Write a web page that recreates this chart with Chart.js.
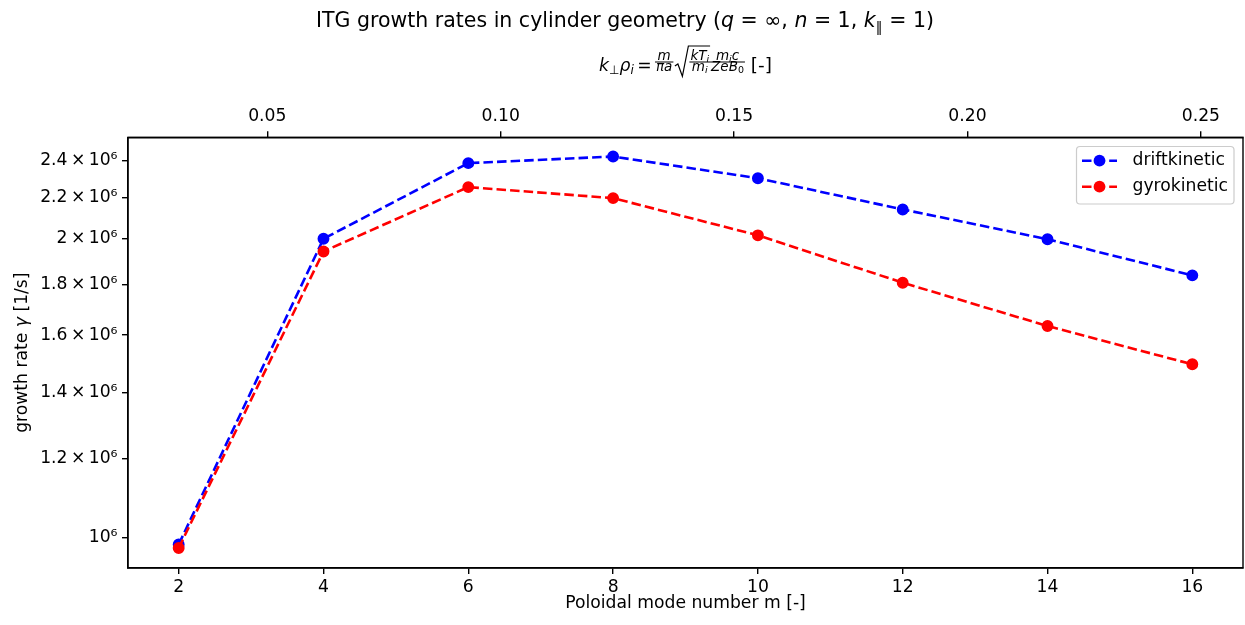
<!DOCTYPE html>
<html>
<head>
<meta charset="utf-8">
<script src="https://cdn.jsdelivr.net/npm/chart.js@4.4.1/dist/chart.umd.min.js"></script>
<style>
  html, body { margin: 0; padding: 0; background: #fff; }
  #wrap { width: 1245px; height: 625px; }
</style>
</head>
<body>
<div id="wrap"><canvas id="itgChart" width="1245" height="625"></canvas></div>
<script>
// poloidal mode numbers and growth rates [1/s]
const modeNumbers = [2, 4, 6, 8, 10, 12, 14, 16];
const driftkinetic = [0.984e6, 2.001e6, 2.385e6, 2.422e6, 2.303e6, 2.142e6, 1.999e6, 1.838e6];
const gyrokinetic = [0.976e6, 1.943e6, 2.256e6, 2.199e6, 2.017e6, 1.807e6, 1.634e6, 1.495e6];

const mTicks = [2, 4, 6, 8, 10, 12, 14, 16];
const gammaTicks = [1.0e6, 1.2e6, 1.4e6, 1.6e6, 1.8e6, 2.0e6, 2.2e6, 2.4e6];
const kTicks = [0.05, 0.10, 0.15, 0.20, 0.25];

// k_perp rho_i per unit of m
const kPerMode = 0.01551;

const M_MIN = 1.3, M_MAX = 16.7;
const G_MIN = 0.9317e6, G_MAX = 2.5325e6;

const FONT = 'DejaVu Sans';
const FS = 17.2;   // labels, ticks, legend
const TS = 20.5;   // figure title
const LW = 2.6;
const DASH = [9.5, 4.1];

function pts(vals) {
  return modeNumbers.map((m, i) => ({ x: m, y: vals[i] }));
}

function series(label, vals, color, order) {
  return {
    label: label,
    data: pts(vals),
    borderColor: color,
    backgroundColor: color,
    borderWidth: LW,
    borderDash: DASH,
    pointRadius: 5.1,
    pointHoverRadius: 5.1,
    pointBorderWidth: 1.7,
    pointBorderColor: color,
    pointBackgroundColor: color,
    tension: 0,
    fill: false,
    order: order
  };
}

// --- small math-text helper: runs of text, fractions and a radical ---
const SQRT_W = 16;
function T(s, opt) {
  opt = opt || {};
  return { type: 'text', s: s, it: !!opt.it, size: opt.size || FS, dy: opt.dy || 0 };
}
function fontOf(it, size) {
  return (it ? 'oblique ' : '') + size + 'px "' + FONT + '"';
}
function measure(ctx, items) {
  let w = 0;
  for (const it of items) {
    if (it.type === 'text') {
      ctx.font = fontOf(it.it, it.size);
      w += ctx.measureText(it.s).width;
    } else if (it.type === 'frac') {
      it.w = Math.max(measure(ctx, it.num), measure(ctx, it.den)) + 2;
      w += it.w;
    } else if (it.type === 'sqrt') {
      it.w = measure(ctx, it.body) + SQRT_W;
      w += it.w;
    }
  }
  return w;
}
function drawItems(ctx, items, x, yb) {
  for (const it of items) {
    if (it.type === 'text') {
      ctx.font = fontOf(it.it, it.size);
      ctx.textBaseline = 'alphabetic';
      ctx.textAlign = 'left';
      ctx.fillText(it.s, x, yb + it.dy);
      x += ctx.measureText(it.s).width;
    } else if (it.type === 'frac') {
      const bar = yb - 9.3;
      const wn = measure(ctx, it.num), wd = measure(ctx, it.den);
      drawItems(ctx, it.num, x + (it.w - wn) / 2, bar - 2.5);
      drawItems(ctx, it.den, x + (it.w - wd) / 2, bar + 8.8);
      ctx.fillRect(x, bar - 0.5, it.w, 1);
      x += it.w;
    } else if (it.type === 'sqrt') {
      const bar = yb - 9.3;
      const top = bar - 16, bot = bar + 14.3;
      ctx.beginPath();
      ctx.moveTo(x + 1.5, bar + 4);
      ctx.lineTo(x + 4.5, bar + 2);
      ctx.lineTo(x + 9, bot);
      ctx.lineTo(x + SQRT_W - 1, top);
      ctx.lineTo(x + it.w, top);
      ctx.lineWidth = 1.2;
      ctx.stroke();
      drawItems(ctx, it.body, x + SQRT_W, yb);
      x += it.w;
    }
  }
  return x;
}

const fs = 13.5, ss = 9.5;
const kAxisLabel = [
  T('k', { it: true }), T('\u22A5', { size: 12, dy: 3 }),
  T('\u03C1', { it: true }), T('i', { it: true, size: 12, dy: 3 }),
  T('\u2009=\u2009'),
  { type: 'frac', num: [T('m', { it: true, size: fs })], den: [T('\u03C0a', { it: true, size: fs })] },
  { type: 'sqrt', body: [
    { type: 'frac',
      num: [T('kT', { it: true, size: fs }), T('i', { it: true, size: ss, dy: 2.2 })],
      den: [T('m', { it: true, size: fs }), T('i', { it: true, size: ss, dy: 2.2 })] }
  ] },
  { type: 'frac',
    num: [T('m', { it: true, size: fs }), T('i', { it: true, size: ss, dy: 2.2 }), T('c', { it: true, size: fs })],
    den: [T('ZeB', { it: true, size: fs }), T('0', { size: ss, dy: 2.2 })] },
  T(' [-]', { size: 18.5 })
];

const titleRuns = [
  T('ITG growth rates in cylinder geometry (', { size: TS }),
  T('q', { it: true, size: TS }), T(' = \u221E, ', { size: TS }),
  T('n', { it: true, size: TS }), T(' = 1, ', { size: TS }),
  T('k', { it: true, size: TS }), T('\u2225', { size: 14.4, dy: 4.5 }),
  T(' = 1)', { size: TS })
];

const yLabelRuns = [T('growth rate '), T('\u03B3', { it: true }), T(' [1/s]')];

const decorations = {
  id: 'decorations',
  afterDraw(chart) {
    const ctx = chart.ctx;
    const a = chart.chartArea;
    ctx.save();
    ctx.fillStyle = '#000';
    ctx.strokeStyle = '#000';

    // axes frame
    ctx.lineWidth = 1.4;
    ctx.strokeRect(a.left, a.top, a.right - a.left, a.bottom - a.top);

    // figure title
    let w = measure(ctx, titleRuns);
    drawItems(ctx, titleRuns, 625 - w / 2, 27);

    // top axis label
    w = measure(ctx, kAxisLabel);
    drawItems(ctx, kAxisLabel, (a.left + a.right) / 2 - w / 2, 71.3);

    // bottom axis label
    ctx.font = FS + 'px "' + FONT + '"';
    ctx.textAlign = 'center';
    ctx.textBaseline = 'alphabetic';
    ctx.fillText('Poloidal mode number m [-]', (a.left + a.right) / 2, 608.3);

    // y axis label
    ctx.save();
    ctx.translate(26.5, (a.top + a.bottom) / 2);
    ctx.rotate(-Math.PI / 2);
    w = measure(ctx, yLabelRuns);
    drawItems(ctx, yLabelRuns, -w / 2, 0);
    ctx.restore();

    // legend
    const lx = 1076.5, ly = 146.5, lw = 157.5, lh = 57.5, r = 3.5;
    ctx.beginPath();
    ctx.moveTo(lx + r, ly);
    ctx.arcTo(lx + lw, ly, lx + lw, ly + lh, r);
    ctx.arcTo(lx + lw, ly + lh, lx, ly + lh, r);
    ctx.arcTo(lx, ly + lh, lx, ly, r);
    ctx.arcTo(lx, ly, lx + lw, ly, r);
    ctx.closePath();
    ctx.fillStyle = 'rgba(255,255,255,0.8)';
    ctx.fill();
    ctx.strokeStyle = '#cccccc';
    ctx.lineWidth = 1.2;
    ctx.stroke();

    chart.data.datasets.forEach((ds, i) => {
      const yy = 160.7 + i * 26;
      ctx.strokeStyle = ds.borderColor;
      ctx.fillStyle = ds.borderColor;
      ctx.lineWidth = LW;
      ctx.setLineDash(DASH);
      ctx.beginPath();
      ctx.moveTo(1082, yy);
      ctx.lineTo(1117, yy);
      ctx.stroke();
      ctx.setLineDash([]);
      ctx.beginPath();
      ctx.arc(1099.5, yy, 5.9, 0, Math.PI * 2);
      ctx.fill();
      ctx.fillStyle = '#000';
      ctx.font = FS + 'px "' + FONT + '"';
      ctx.textAlign = 'left';
      ctx.textBaseline = 'middle';
      ctx.fillText(ds.label, 1132.5, yy);
    });
    ctx.restore();
  }
};

const axisCommon = {
  grid: { drawOnChartArea: false, drawTicks: true, tickLength: 6, color: '#000', lineWidth: 1.4 },
  border: { display: true, color: '#000', width: 1.4 },
};

// keep the frame edges fixed: no extra room for overhanging labels
function fixX(h) {
  return s => { s.height = h; s.paddingLeft = 0; s.paddingRight = 0; };
}

new Chart(document.getElementById('itgChart'), {
  type: 'line',
  data: {
    datasets: [
      series('driftkinetic', driftkinetic, '#0000ff', 1),
      series('gyrokinetic', gyrokinetic, '#ff0000', 0)
    ]
  },
  options: {
    responsive: false,
    animation: false,
    devicePixelRatio: 1,
    layout: { autoPadding: false, padding: { left: 0, right: 2, top: 0, bottom: 0 } },
    plugins: {
      legend: { display: false },
      tooltip: { enabled: false },
      title: { display: false }
    },
    scales: {
      x: {
        type: 'linear',
        position: 'bottom',
        min: M_MIN,
        max: M_MAX,
        ...axisCommon,
        afterBuildTicks: s => { s.ticks = mTicks.map(v => ({ value: v })); },
        afterFit: fixX(57),
        ticks: {
          color: '#000',
          font: { family: FONT, size: FS },
          padding: 3.5,
          autoSkip: false,
          maxRotation: 0,
          callback: v => String(v)
        }
      },
      xTop: {
        type: 'linear',
        axis: 'x',
        position: 'top',
        min: M_MIN * kPerMode,
        max: M_MAX * kPerMode,
        ...axisCommon,
        afterBuildTicks: s => { s.ticks = kTicks.map(v => ({ value: v })); },
        afterFit: fixX(137.3),
        ticks: {
          color: '#000',
          font: { family: FONT, size: FS },
          padding: 4,
          autoSkip: false,
          maxRotation: 0,
          callback: v => v.toFixed(2)
        }
      },
      y: {
        type: 'logarithmic',
        position: 'left',
        min: G_MIN,
        max: G_MAX,
        ...axisCommon,
        afterBuildTicks: s => { s.ticks = gammaTicks.map(v => ({ value: v })); },
        afterFit: s => { s.width = 128; s.paddingTop = 0; s.paddingBottom = 0; },
        ticks: {
          color: '#000',
          font: { family: FONT, size: FS },
          padding: 4.5,
          autoSkip: false,
          callback: v => {
            const a = Math.round(v / 1e5) / 10;
            return a === 1 ? '10\u2076' : a + '\u2009\u00D7\u200910\u2076';
          }
        }
      }
    }
  },
  plugins: [decorations]
});
</script>
</body>
</html>
